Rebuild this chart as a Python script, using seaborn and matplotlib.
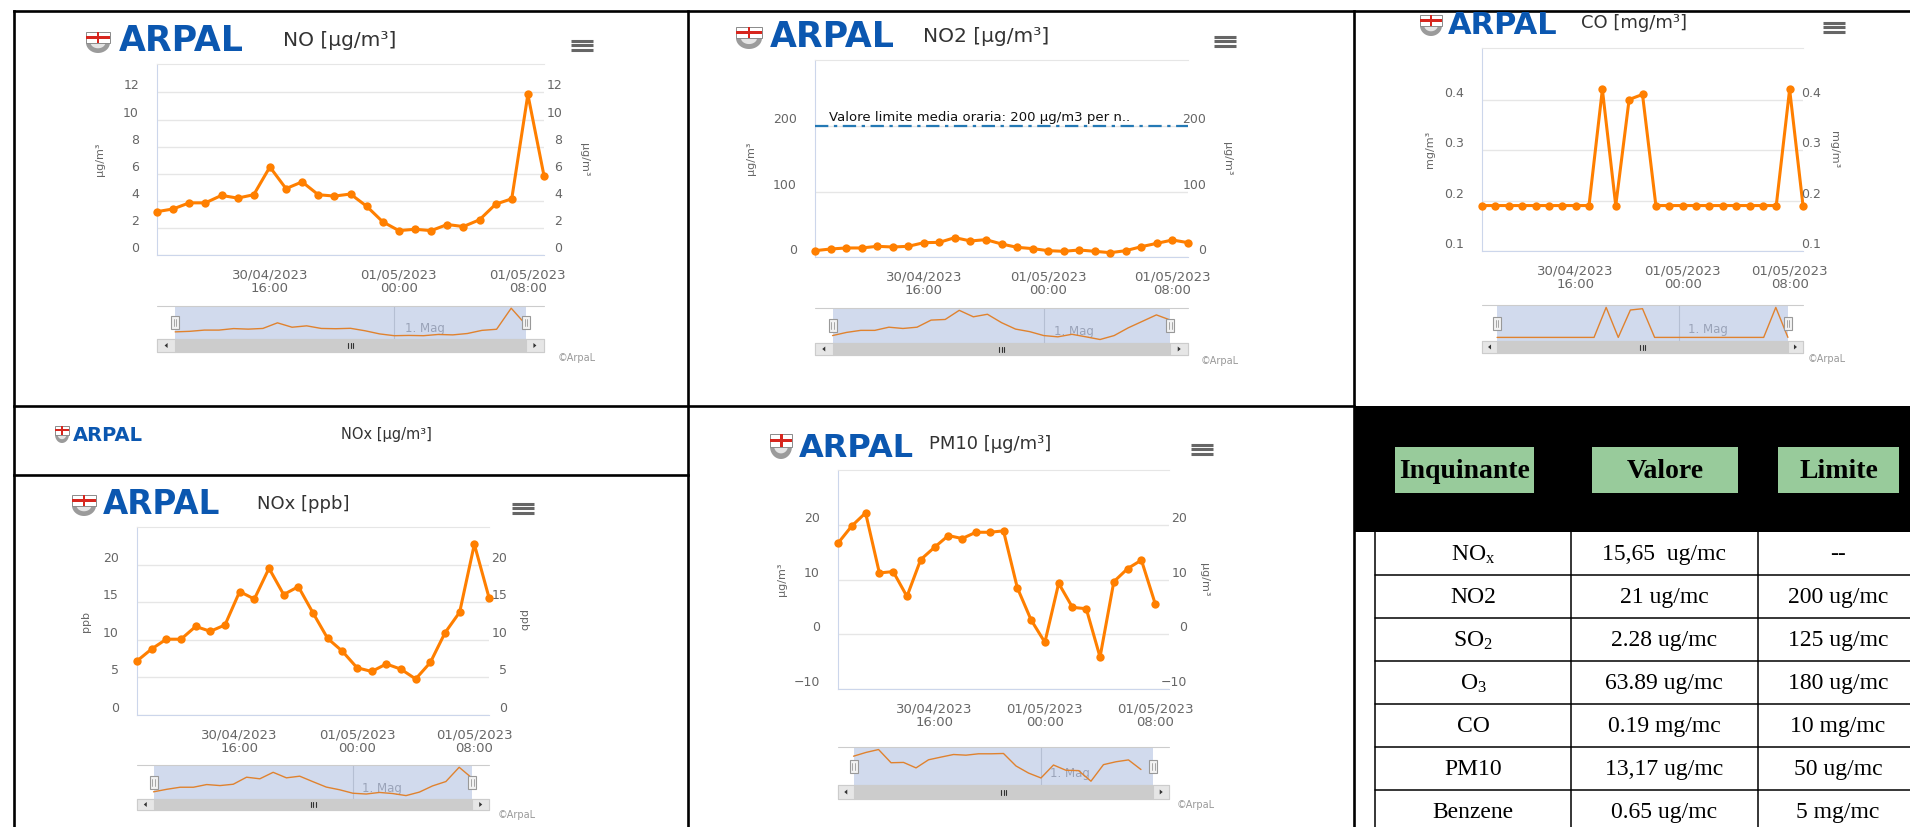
import matplotlib
matplotlib.use("Agg")
import matplotlib.pyplot as plt
import matplotlib.dates as mdates
from matplotlib.patches import Rectangle, Polygon
from matplotlib.lines import Line2D
from matplotlib.transforms import Affine2D, blended_transform_factory
import seaborn as sns
import pandas as pd
import numpy as np

sns.set_style("white")
plt.rcParams["font.family"] = ["DejaVu Sans"]

W, H = 1910, 827

hours = pd.date_range("2023-04-30 09:00", periods=25, freq="h")
tick_times = pd.to_datetime(["2023-04-30 16:00", "2023-05-01 00:00", "2023-05-01 08:00"])
midnight = pd.Timestamp("2023-05-01 00:00")

no_vals = [3.2, 3.4, 3.85, 3.85, 4.4, 4.2, 4.45, 6.5, 4.9, 5.4, 4.45, 4.35, 4.5, 3.6,
           2.45, 1.8, 1.9, 1.8, 2.25, 2.1, 2.6, 3.75, 4.15, 11.85, 5.85]
no2_vals = [9.7, 12.2, 13.8, 13.8, 16.3, 15.3, 16.3, 21.9, 22.4, 29.6, 24.5, 26.5, 19.9,
            14.8, 12.8, 9.7, 8.7, 10.7, 8.7, 6.6, 9.7, 15.8, 20.9, 26.0, 21.9]
co_vals = [0.19, 0.19, 0.19, 0.19, 0.19, 0.19, 0.19, 0.19, 0.19, 0.42, 0.19, 0.40, 0.41,
           0.19, 0.19, 0.19, 0.19, 0.19, 0.19, 0.19, 0.19, 0.19, 0.19, 0.42, 0.19]
nox_vals = [7.2, 8.8, 10.1, 10.1, 11.8, 11.15, 12.0, 16.45, 15.45, 19.55, 16.05, 17.1, 13.6,
            10.2, 8.5, 6.3, 5.8, 6.8, 6.1, 4.8, 7.0, 10.95, 13.7, 22.75, 15.65]
pm10_vals = [16.7, 19.85, 22.25, 11.25, 11.5, 6.95, 13.7, 15.95, 18.1, 17.55, 18.7, 18.7,
             18.95, 8.55, 2.65, -1.45, 9.35, 4.95, 4.7, -4.15, 9.65, 12.05, 13.6, 5.6, np.nan]

table_columns = ["Inquinante", "Valore", "Limite"]
pollutants = ["NO$\\mathregular{_x}$", "NO2", "SO$\\mathregular{_2}$", "O$\\mathregular{_3}$",
              "CO", "PM10", "Benzene"]
measured = ["15,65  ug/mc", "21 ug/mc", "2.28 ug/mc", "63.89 ug/mc", "0.19 mg/mc",
            "13,17 ug/mc", "0.65 ug/mc"]
limits = ["--", "200 ug/mc", "125 ug/mc", "180 ug/mc", "10 mg/mc", "50 ug/mc", "5 mg/mc"]

ORANGE = "#ff7f00"
GRID = "#e6e6e6"
AXIS = "#ccd6eb"
LABEL = "#666666"

fig = plt.figure(figsize=(W / 100, H / 100), dpi=100)
fig.patch.set_facecolor("white")
# coordinate in pixel, origine in alto a sinistra
T = Affine2D().scale(1.0 / W, -1.0 / H).translate(0, 1) + fig.transFigure


def box(x0, y0, x1, y1):
    return [x0 / W, 1 - y1 / H, (x1 - x0) / W, (y1 - y0) / H]


def rect(x, y, w, h, **kw):
    fig.add_artist(Rectangle((x, y), w, h, transform=T, **kw))


def line(xs, ys, **kw):
    fig.add_artist(Line2D(xs, ys, transform=T, **kw))


def text(x, y, s, **kw):
    fig.text(x, y, s, transform=T, **kw)


def half_ellipse(cx, cy, rx, ry):
    t = np.linspace(0, np.pi, 30)
    return np.column_stack([cx + rx * np.cos(t), cy + ry * np.sin(t)])


def draw_logo(xs, xe, xt, top, base, fs):
    # stemma stilizzato + scritta
    h = base - top + 2
    w = xe - xs
    rh = h * 0.5
    fig.add_artist(Polygon(half_ellipse(xs + w / 2, top + rh, w / 2, h - rh), transform=T,
                           fc="#9b9b9b", ec="none"))
    fig.add_artist(Polygon(half_ellipse(xs + w / 2, top + rh, w / 2 * 0.62, (h - rh) * 0.55),
                           transform=T, fc="#e4e4e4", ec="none"))
    rect(xs, top, w, rh, fc="white", ec="#8a8a8a", lw=0.7)
    rect(xs + w / 2 - h * 0.06, top, h * 0.12, rh, fc="#d7261e", ec="none")
    rect(xs, top + rh / 2 - h * 0.06, w, h * 0.12, fc="#d7261e", ec="none")
    text(xt, base, "ARPAL", color="#0b57b0", fontsize=fs, fontweight="bold", va="baseline", ha="left")


def draw_menu(xc, yc):
    for dy in (-4.5, 0, 4.5):
        line([xc - 11, xc + 11], [yc + dy, yc + dy], color="#666666", lw=2.2, solid_capstyle="butt")


def draw_chart(values, ylim, yticks, title, unit, plot, nav, logo, title_xy, menu_xy, ylab_x,
               credit_xy, title_fs=13):
    x0, y0, x1, y1 = plot
    ax = fig.add_axes(box(x0, y0, x1, y1))
    sns.lineplot(x=hours, y=values, ax=ax, color=ORANGE, lw=2.2, marker="o", markersize=6,
                 markeredgewidth=0, estimator=None, clip_on=False, zorder=5)
    ax.set_xlim(hours[0], hours[-1])
    ax.set_ylim(*ylim)
    ax.set_yticks(yticks)
    ax.set_xticks(tick_times)
    ax.xaxis.set_major_formatter(mdates.DateFormatter("%d/%m/%Y\n%H:%M"))
    ax.grid(axis="y", color=GRID, lw=1)
    ax.grid(axis="x", visible=False)
    ax.tick_params(axis="y", length=0, pad=13, labelsize=9, labelcolor=LABEL)
    ax.tick_params(axis="x", length=7, width=1, color=AXIS, pad=3, labelsize=9.5, labelcolor=LABEL)
    ax.spines["right"].set_visible(False)
    ax.spines["top"].set_color(GRID)
    ax.spines["left"].set_color(AXIS)
    ax.spines["bottom"].set_color(AXIS)
    for lbl in ax.get_yticklabels():
        lbl.set_va("bottom")
    for lbl in ax.get_xticklabels():
        lbl.set_linespacing(1.0)
    ax.set_xlabel("")
    ax.set_ylabel(unit, fontsize=8, color=LABEL, rotation=90, va="center", ha="center")
    ax.yaxis.set_label_coords((ylab_x[0] - x0) / (x1 - x0), 0.5)

    ax2 = ax.twinx()
    ax2.set_ylim(*ylim)
    ax2.set_yticks(yticks)
    ax2.tick_params(axis="y", length=0, pad=13, labelsize=9, labelcolor=LABEL)
    for s in ax2.spines.values():
        s.set_visible(False)
    for lbl in ax2.get_yticklabels():
        lbl.set_ha("right")
        lbl.set_va("bottom")
    ax2.set_ylabel(unit, fontsize=8, color=LABEL, rotation=270, va="center", ha="center")
    ax2.yaxis.set_label_coords((ylab_x[1] - x0) / (x1 - x0), 0.5)

    # navigatore
    nt, nb, sb = nav
    pw = x1 - x0
    sx0, sx1 = x0 + 0.047 * pw, x1 - 0.047 * pw
    nax = fig.add_axes(box(x0, nt, x1, nb))
    span = hours[-1] - hours[0]
    padt = span * (0.047 / (1 - 2 * 0.047))
    nax.set_xlim(hours[0] - padt, hours[-1] + padt)
    nax.axvspan(hours[0], hours[-1], color=AXIS, alpha=0.9, lw=0, zorder=0)
    nax.axvline(midnight, color="#b5bfd3", lw=0.8, zorder=1)
    nax.text(mdates.date2num(midnight) + 0.03, 0.22, "1. Mag", color="#9aa3b8", fontsize=8.5,
             transform=blended_transform_factory(nax.transData, nax.transAxes), zorder=2)
    sns.lineplot(x=hours, y=values, ax=nax, color="#e0822e", lw=1, estimator=None, zorder=3)
    v = np.array(values, dtype=float)
    lo, hi = np.nanmin(v), np.nanmax(v)
    rng = hi - lo
    nax.set_ylim(lo - 0.12 * rng, hi + 0.08 * rng)
    nax.set_xticks([])
    nax.set_yticks([])
    nax.set_xlabel("")
    nax.set_ylabel("")
    for s in nax.spines.values():
        s.set_visible(False)
    line([x0, x1], [nt, nt], color="#cccccc", lw=0.8)

    my = (nt + nb) / 2
    for hx in (sx0, sx1):
        rect(hx - 4, my - 6.5, 8, 13, fc="#f2f2f2", ec="#999999", lw=0.8, zorder=6)
        for dx in (-1.3, 1.3):
            line([hx + dx, hx + dx], [my - 3.5, my + 3.5], color="#999999", lw=0.6, zorder=7)

    sh = sb - nb
    rect(x0, nb, pw, sh, fc="#f2f2f2", ec="#cccccc", lw=0.8)
    rect(sx0, nb, sx1 - sx0, sh, fc="#cccccc", ec="#cccccc", lw=0.8)
    rect(x0, nb, sx0 - x0, sh, fc="#e6e6e6", ec="#cccccc", lw=0.8)
    rect(sx1, nb, x1 - sx1, sh, fc="#e6e6e6", ec="#cccccc", lw=0.8)
    cy = nb + sh / 2
    la = (x0 + sx0) / 2
    ra = (sx1 + x1) / 2
    fig.add_artist(Polygon([(la + 1.5, cy - 2.5), (la + 1.5, cy + 2.5), (la - 1.5, cy)],
                           transform=T, fc="#333333", ec="none"))
    fig.add_artist(Polygon([(ra - 1.5, cy - 2.5), (ra - 1.5, cy + 2.5), (ra + 1.5, cy)],
                           transform=T, fc="#333333", ec="none"))
    gc = (sx0 + sx1) / 2
    for dx in (-2.5, 0, 2.5):
        line([gc + dx, gc + dx], [cy - 2.5, cy + 2.5], color="#333333", lw=0.8)

    draw_logo(*logo)
    text(title_xy[0], title_xy[1], title, fontsize=title_fs, color="#333333", va="center", ha="left")
    draw_menu(*menu_xy)
    text(credit_xy[0], credit_xy[1], "\u00a9ArpaL", fontsize=7, color="#999999", ha="right", va="center")
    return ax


# --- NO ---
draw_chart(no_vals, (0, 14.1), [0, 2, 4, 6, 8, 10, 12], "NO [\u03bcg/m\u00b3]", "\u03bcg/m\u00b3",
           plot=(157, 64, 544, 255), nav=(306, 339, 352), logo=(86, 110, 119, 32, 51, 25),
           title_xy=(283, 41), menu_xy=(582, 45), ylab_x=(100, 584), credit_xy=(596, 358),
           title_fs=14.5)

# --- NO2 ---
ax_no2 = draw_chart(no2_vals, (0, 301), [0, 100, 200], "NO2 [\u03bcg/m\u00b3]", "\u03bcg/m\u00b3",
                    plot=(815, 60, 1188, 257), nav=(308, 343, 355), logo=(736, 762, 770, 27, 47, 25),
                    title_xy=(923, 37), menu_xy=(1225, 41), ylab_x=(751, 1227), credit_xy=(1239, 361),
                    title_fs=14.5)
ax_no2.axhline(200, color="#2479b5", lw=1.6, dashes=(6, 2.5, 1.5, 2.5), zorder=3)
ax_no2.annotate("Valore limite media oraria: 200 \u03bcg/m3 per n..", xy=(0.037, 200),
                xycoords=blended_transform_factory(ax_no2.transAxes, ax_no2.transData),
                xytext=(0, 1.5), textcoords="offset points", fontsize=9.5, color="#111111",
                va="bottom", ha="left")

# --- CO ---
draw_chart(co_vals, (0.1, 0.502), [0.1, 0.2, 0.3, 0.4], "CO [mg/m\u00b3]", "mg/m\u00b3",
           plot=(1482, 48, 1803, 251), nav=(305, 341, 353), logo=(1420, 1442, 1448, 15, 34, 22),
           title_xy=(1581, 23), menu_xy=(1834, 27), ylab_x=(1430, 1834), credit_xy=(1846, 359))

# --- NOx ppb ---
draw_chart(nox_vals, (0, 25.05), [0, 5, 10, 15, 20], "NOx [ppb]", "ppb",
           plot=(137, 527, 489, 715), nav=(765, 799, 810), logo=(72, 96, 103, 495, 514, 23.5),
           title_xy=(257, 504), menu_xy=(523, 508), ylab_x=(86, 523), credit_xy=(536, 815))

# --- PM10 ---
draw_chart(pm10_vals, (-10, 30.1), [-10, 0, 10, 20], "PM10 [\u03bcg/m\u00b3]", "\u03bcg/m\u00b3",
           plot=(838, 470, 1169, 689), nav=(747, 785, 799), logo=(770, 792, 799, 434, 457, 23),
           title_xy=(929, 444), menu_xy=(1202, 449), ylab_x=(782, 1204), credit_xy=(1215, 805))

# striscia NOx ug/m3 (solo intestazione)
draw_logo(55, 69, 73, 426, 441, 14)
text(341, 435, "NOx [\u03bcg/m\u00b3]", fontsize=10.5, color="#333333", va="center", ha="left")

# --- tabella ---
rect(1354, 406, W - 1354, 532 - 406, fc="black", ec="none")
header_boxes = [(1395, 1534), (1592, 1738), (1778, 1899)]
for (bx0, bx1), name in zip(header_boxes, table_columns):
    rect(bx0, 447, bx1 - bx0, 46, fc="#98cb9b", ec="none")
    text((bx0 + bx1) / 2, 471, name, family="Liberation Serif", fontweight="bold",
         fontsize=20, ha="center", va="center", color="black")

row_top, row_h = 532, 43
col_lines = [1375, 1571, 1758]
col_centers = [1473, 1664, 1838]
for cx in col_lines:
    line([cx, cx], [row_top, H], color="black", lw=1.1)
for i, (p, m, lim) in enumerate(zip(pollutants, measured, limits)):
    yc = row_top + row_h * (i + 0.5) + 1
    if i > 0:
        line([1375, W], [row_top + row_h * i] * 2, color="black", lw=1.1)
    for cx, s in zip(col_centers, (p, m, lim)):
        text(cx, yc, s, family="Liberation Serif", fontsize=17, ha="center", va="center", color="black")

# --- cornici ---
bw = dict(color="black", lw=1.9, solid_capstyle="projecting")
line([14, W], [11, 11], **bw)
line([14, 14], [11, H], **bw)
line([688, 688], [11, H], **bw)
line([1354, 1354], [11, H], **bw)
line([14, 1354], [406, 406], **bw)
line([14, 688], [475, 475], **bw)

fig.savefig("out.png", dpi=100, facecolor="white")
